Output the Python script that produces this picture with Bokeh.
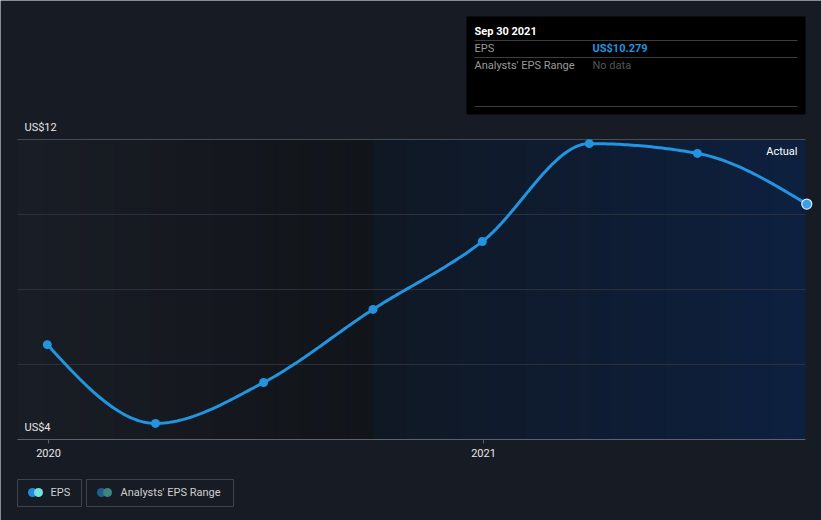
import numpy as np
import pandas as pd
from bokeh.plotting import figure
from bokeh.models import Range1d
from bokeh.core.properties import value
from bokeh.embed import file_html
from bokeh.resources import INLINE

# ---- data ----
dates = ["2019-12-31", "2020-03-31", "2020-06-30", "2020-09-30",
         "2020-12-31", "2021-03-31", "2021-06-30", "2021-09-30"]
eps = [6.53, 4.43, 5.52, 7.47, 9.28, 11.89, 11.63, 10.279]
forecast_start = "2020-09-30"
y_ticks = [4, 6, 8, 10, 12]
y_tick_labels = ["US$4", "US$12"]
x_tick_dates = ["2020-01-01", "2021-01-01"]
x_tick_labels = ["2020", "2021"]
tooltip_date = "Sep 30 2021"
tooltip_value = "US$10.279"

# ---- scale helpers ----
DAY0 = pd.Timestamp("2020-01-01")
PXD = 435 / 366.0


def days(d):
    return (pd.Timestamp(d) - DAY0).days


def xd(px):
    return (px - 48) / PXD


def yv(py):
    return 12 - (py - 139) / 37.5


xs = np.array([days(d) for d in dates], dtype=float)
ys = np.array(eps, dtype=float)

BG = "#161b24"
FONT = value("Roboto")

p = figure(width=821, height=520, output_backend="svg", toolbar_location=None,
           x_range=Range1d(xd(0), xd(821)), y_range=Range1d(yv(520), yv(0)),
           min_border=0, background_fill_color=BG, border_fill_color=BG)
p.outline_line_color = None
p.xaxis.visible = False
p.yaxis.visible = False
p.xgrid.visible = False
p.ygrid.visible = False

x_left = xd(17)
x_right = xd(805)
x_mid = days(forecast_start)

# ---- background gradient bands ----
def hexmix(c1, c2, t):
    a = np.array([int(c1[i:i + 2], 16) for i in (1, 3, 5)], dtype=float)
    b = np.array([int(c2[i:i + 2], 16) for i in (1, 3, 5)], dtype=float)
    c = a + (b - a) * t
    return "#%02x%02x%02x" % tuple(int(round(v)) for v in c)


n = 40
e1 = np.linspace(x_left, x_mid, n + 1)
c1 = [hexmix("#191d25", "#111419", i / (n - 1)) for i in range(n)]
p.quad(left=e1[:-1], right=e1[1:] + 0.6, bottom=4, top=12,
       fill_color=c1, line_color=None)
e2 = np.linspace(x_mid, x_right, n + 1)
c2 = [hexmix("#101824", "#0d203f", i / (n - 1)) for i in range(n)]
p.quad(left=e2[:-1], right=np.minimum(e2[1:] + 0.6, x_right), bottom=4, top=12,
       fill_color=c2, line_color=None)

# ---- grid ----
gy = y_ticks[1:-1]
p.segment(x0=[x_left] * len(gy), x1=[x_right] * len(gy), y0=gy, y1=gy,
          line_color="#2b313c", line_width=1)
p.segment(x0=[x_left], x1=[x_right], y0=[y_ticks[-1]], y1=[y_ticks[-1]],
          line_color="#464c58", line_width=1)
p.segment(x0=[x_left], x1=[x_right], y0=[y_ticks[0]], y1=[y_ticks[0]],
          line_color="#5d626c", line_width=1)

# x ticks
xt = [days(d) for d in x_tick_dates]
p.segment(x0=xt, x1=xt, y0=[4] * 2, y1=[yv(443)] * 2, line_color="#5d626c")
p.text(x=xt, y=[yv(452)] * 2, text=x_tick_labels, text_font=FONT,
       text_font_size="11px", text_color="#e6e6e6",
       text_align="center", text_baseline="middle")
# y labels
p.text(x=[xd(24)] * 2, y=[yv(127), yv(427)], text=[y_tick_labels[1], y_tick_labels[0]],
       text_font=FONT, text_font_size="11px", text_color="#e6e6e6",
       text_align="left", text_baseline="middle")

# ---- monotone cubic (d3 curveMonotoneX) ----
def monotone(x, y, per=40):
    nP = len(x)
    h = np.diff(x)
    s = np.diff(y) / h
    t = np.zeros(nP)
    for i in range(1, nP - 1):
        h0, h1 = h[i - 1], h[i]
        s0, s1 = s[i - 1], s[i]
        pp = (s0 * h1 + s1 * h0) / (h0 + h1)
        t[i] = (np.sign(s0) + np.sign(s1)) * min(abs(s0), abs(s1), 0.5 * abs(pp))
    t[0] = (3 * s[0] - t[1]) / 2
    t[-1] = (3 * s[-1] - t[-2]) / 2
    X, Y = [], []
    for i in range(nP - 1):
        u = np.linspace(0, 1, per, endpoint=(i == nP - 2))
        dx = h[i]
        h00 = 2 * u**3 - 3 * u**2 + 1
        h10 = u**3 - 2 * u**2 + u
        h01 = -2 * u**3 + 3 * u**2
        h11 = u**3 - u**2
        X.append(x[i] + u * dx)
        Y.append(h00 * y[i] + h10 * dx * t[i] + h01 * y[i + 1] + h11 * dx * t[i + 1])
    return np.concatenate(X), np.concatenate(Y)


cx, cy = monotone(xs, ys)
LINE = "#2394df"
p.line(cx, cy, line_color=LINE, line_width=3)
p.scatter(xs[:-1], ys[:-1], size=9, fill_color=LINE, line_color=None)
p.scatter(xs[-1:], ys[-1:], size=10, fill_color="#3aa0e8", line_color="#dbeeff", line_width=1.2)

p.text(x=[xd(797)], y=[yv(151)], text=["Actual"], text_font=FONT,
       text_font_size="11px", text_color="#ffffff",
       text_align="right", text_baseline="middle")

# ---- tooltip box ----
p.quad(left=[xd(466)], right=[xd(805)], top=[yv(16)], bottom=[yv(114)],
       fill_color="#000000", line_color=None)
p.segment(x0=[xd(474)] * 3, x1=[xd(797)] * 3, y0=[yv(40), yv(57), yv(106)],
          y1=[yv(40), yv(57), yv(106)], line_color="#3d3d3d", line_width=1)
p.text(x=[xd(474)], y=[yv(31)], text=[tooltip_date], text_font=FONT,
       text_font_size="11px", text_color="#ffffff", text_font_style="bold",
       text_align="left", text_baseline="middle")
p.text(x=[xd(474), xd(474)], y=[yv(48), yv(65)], text=["EPS", "Analysts' EPS Range"],
       text_font=FONT, text_font_size="11px", text_color="#9a9a9a",
       text_align="left", text_baseline="middle")
p.text(x=[xd(592)], y=[yv(48)], text=[tooltip_value], text_font=FONT,
       text_font_size="11px", text_color="#2394df", text_font_style="bold",
       text_align="left", text_baseline="middle")
p.text(x=[xd(592)], y=[yv(65)], text=["No data"], text_font=FONT,
       text_font_size="11px", text_color="#555555",
       text_align="left", text_baseline="middle")

# ---- legend ----
p.quad(left=[xd(17), xd(86)], right=[xd(81), xd(233)], top=[yv(479)] * 2,
       bottom=[yv(506)] * 2, fill_color=None, line_color="#3e434d", line_width=1)
p.scatter([xd(32), xd(101)], [yv(492)] * 2, size=9,
          fill_color=["#1f8ae6", "#1f5f8f"], line_color=None)
p.scatter([xd(38), xd(107)], [yv(492)] * 2, size=9,
          fill_color=["#6fe3da", "#3d8580"], line_color=None)
p.text(x=[xd(50), xd(120)], y=[yv(492)] * 2, text=["EPS", "Analysts' EPS Range"],
       text_font=FONT, text_font_size="11px", text_color="#cfcfcf",
       text_align="left", text_baseline="middle")

open("out.html", "w").write(file_html(p, INLINE))
